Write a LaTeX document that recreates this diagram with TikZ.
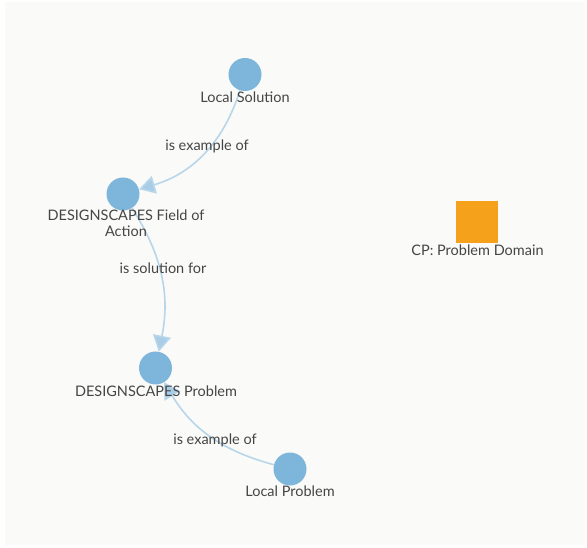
\documentclass[tikz,border=0pt]{standalone}
\usepackage{fontspec}
\setmainfont{Lato}
\usetikzlibrary{arrows.meta}
\definecolor{bgc}{HTML}{FAFAF8}
\definecolor{nodeblue}{HTML}{7DB6DA}
\definecolor{edgeblue}{HTML}{B8D6EA}
\definecolor{tipblue}{HTML}{A9CDE6}
\definecolor{orng}{HTML}{F5A11C}
\definecolor{txt}{HTML}{454545}
\begin{document}
\begin{tikzpicture}[x=1pt,y=-1pt,
  concept/.style={circle,fill=nodeblue,minimum size=33pt,inner sep=0pt},
  lbl/.style={text=txt,font=\fontsize{14.5}{16}\selectfont,inner sep=1pt,align=center},
  rel/.style={draw=edgeblue,line width=1.6pt,-{Triangle[length=16pt,width=18pt,fill=tipblue]},shorten >=0pt}]
\useasboundingbox (0,0) rectangle (587,548);
\fill[white] (0,0) rectangle (587,548);
\fill[bgc] (5,2) rectangle (585,545);
% nodes
\node[concept] (ls) at (245,74.5) {};
\node[concept] (fa) at (123,194) {};
\node[concept] (dp) at (155.5,368) {};
\node[concept] (lp) at (290,469) {};
\node[fill=orng,minimum size=42.5pt,inner sep=0pt] (cp) at (477,222) {};
% edges
\draw[rel] (ls) to[bend left=28] (fa);
\draw[rel] (fa) to[bend left=22] (dp);
\draw[rel] (lp) to[bend left=22] (dp);
% labels
\node[lbl] (lsl) at (245,97) {Local Solution};
\node[lbl] (fal) at (126,223) {DESIGNSCAPES Field of\\Action};
\node[lbl] (dpl) at (156,391) {DESIGNSCAPES Problem};
\node[lbl] (lpl) at (290,491) {Local Problem};
\node[lbl] (cpl) at (477.5,250) {CP: Problem Domain};
\node[lbl] (e1) at (207,146) {is example of};
\node[lbl] (e2) at (163,268) {is solution for};
\node[lbl] (e3) at (215,440) {is example of};
\end{tikzpicture}
\end{document}
